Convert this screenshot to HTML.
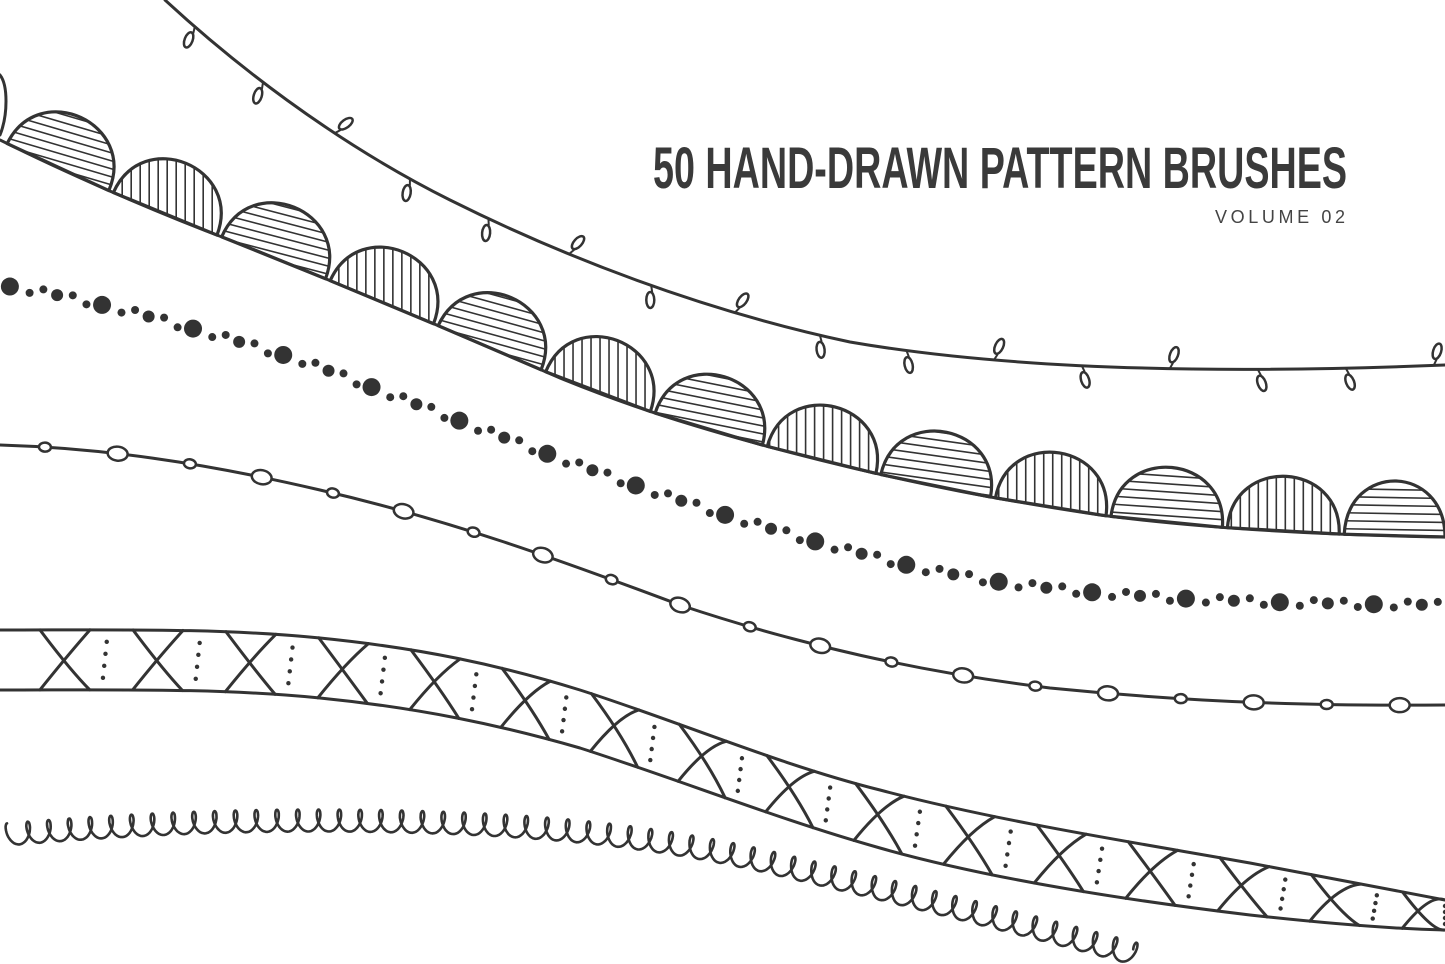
<!DOCTYPE html>
<html><head><meta charset="utf-8"><style>
html,body{margin:0;padding:0;background:#fff;width:1445px;height:964px;overflow:hidden}
svg{display:block}
</style></head><body>
<svg id="s" width="1445" height="964" viewBox="0 0 1445 964" xmlns="http://www.w3.org/2000/svg">
<g fill="none" stroke="#333" stroke-width="3" stroke-linecap="round" stroke-linejoin="round">
<path id="vine" d="M165,0 C230,60 330,140 450,200 C560,255 700,310 850,342 C1000,368 1200,375 1445,365"/>
<path id="scb" d="M0,140 C60,170 150,210 230,240 C330,280 450,330 560,378 C650,415 740,440 820,460 C920,485 1000,500 1100,515 C1200,528 1320,535 1445,537"/>
<path id="dots" d="M0,285 C100,300 200,330 300,360 C420,405 520,445 620,480 C720,515 820,545 920,568 C1050,595 1200,603 1445,605" stroke="none"/>
<path id="bead" d="M0,445 C100,448 200,462 320,490 C450,520 560,560 680,605 C800,645 920,672 1050,688 C1200,703 1320,706 1445,705"/>
<path id="xt" d="M0,630 C120,630 220,628 320,638 C420,648 500,665 580,690 C680,722 780,765 880,790 C1000,822 1150,845 1250,863 C1340,880 1400,892 1445,900"/>
<path id="xb" d="M0,690 C120,690 220,688 320,698 C420,708 500,725 580,748 C680,780 780,820 880,848 C1000,882 1150,903 1250,915 C1340,925 1400,929 1445,930"/>
<path id="coil" d="M0,835 C150,822 280,818 420,822 C560,826 660,838 760,860 C880,888 1000,918 1140,955" stroke="none"/>
<path d="M0,75 C8,85 8,115 0,135"/>
</g>
<g id="deco"></g>
<text x="653" y="188" font-family="'Liberation Sans Narrow','Liberation Sans',sans-serif" font-weight="bold" font-size="58" fill="#3a3a3a" textLength="694" lengthAdjust="spacingAndGlyphs">50 HAND-DRAWN PATTERN BRUSHES</text>
<text x="1215" y="223" font-family="'Liberation Sans',sans-serif" font-size="18" fill="#444" letter-spacing="2" textLength="132">VOLUME 02</text>
</svg>
<script>
(function(){
var d=document.getElementById('deco'),out=[];
function P(id){var e=document.getElementById(id);return {L:e.getTotalLength(),at:function(s){return e.getPointAtLength(Math.max(0,Math.min(s,this.L)))}};}
function nrm(p,s){var a=p.at(s-1),b=p.at(s+1),dx=b.x-a.x,dy=b.y-a.y,l=Math.hypot(dx,dy)||1;return [dx/l,dy/l,dy/l,-dx/l];}
var st='stroke="#333" fill="none" stroke-linecap="round" stroke-linejoin="round"';
var v=P('vine');var ups=[0,0,1,0,0,1,0,1,0,0,1,0,1,0,0,1,0,1,0,1];
for(var s=40,i=0;s<v.L;s+=88,i++){var p=v.at(s),n=nrm(v,s),ang=Math.atan2(n[1],n[0])*180/Math.PI;
 var down=!ups[i%ups.length];var oy=down?14:-14;
 out.push('<g transform="translate('+p.x+','+p.y+') rotate('+ang+')"><path d="M0,0 L3,'+(oy*0.4)+'" '+st+' stroke-width="2"/><ellipse cx="4" cy="'+(oy)+'" rx="4" ry="8" transform="rotate('+(down?-20:20)+' 4 '+oy+')" fill="#fff" stroke="#333" stroke-width="2.5"/></g>');}
var b=P('scb');var k=0;
for(var s=8;s<b.L;s+=117,k++){var a=b.at(s),e=b.at(s+112),n=nrm(b,s+56);var h=56;
 var c1x=a.x+n[2]*h*1.3+n[0]*2,c1y=a.y+n[3]*h*1.3+n[1]*2,c2x=e.x+n[2]*h*1.3-n[0]*2,c2y=e.y+n[3]*h*1.3-n[1]*2;
 var dd='M'+a.x+','+a.y+' C'+c1x+','+c1y+' '+c2x+','+c2y+' '+e.x+','+e.y+' Z';
 out.push('<clipPath id="c'+k+'"><path d="'+dd+'"/></clipPath>');
 var g='<g clip-path="url(#c'+k+')" stroke="#333" stroke-width="1.6">';
 var cx=(a.x+e.x)/2,cy=(a.y+e.y)/2;
 if(k%2==0){for(var j=-70;j<80;j+=8){g+='<line x1="'+(cx-80)+'" y1="'+(cy+j+(a.y-e.y)/2)+'" x2="'+(cx+80)+'" y2="'+(cy+j-(a.y-e.y)/2)+'"/>';}}
 else{for(var j=-70;j<80;j+=9){g+='<line x1="'+(cx+j)+'" y1="'+(cy-90)+'" x2="'+(cx+j)+'" y2="'+(cy+20)+'"/>';}}
 out.push(g+'</g><path d="'+dd+'" '+st+' stroke-width="3.2"/>');}
var dt=P('dots');var pat=[[9,18],[4,12],[4,12],[6,14],[4,12],[4,14]];
for(var s=10,i=0;s<dt.L;i++){var q=pat[i%pat.length];var p=dt.at(s);var off=(i%2?3:-3);
 out.push('<circle cx="'+p.x+'" cy="'+(p.y+(q[0]<6?off:0))+'" r="'+q[0]+'" fill="#333"/>');s+=q[1]+2;}
var bd=P('bead');
for(var s=45,i=0;s<bd.L;s+=73,i++){var p=bd.at(s),n=nrm(bd,s),ang=Math.atan2(n[1],n[0])*180/Math.PI;var big=(i%2==1);
 out.push('<ellipse transform="translate('+p.x+','+p.y+') rotate('+ang+')" rx="'+(big?10:6)+'" ry="'+(big?7:4.5)+'" fill="#fff" stroke="#333" stroke-width="2.5"/>');}
var t=P('xt'),bo=P('xb');var sc=bo.L/t.L;
for(var s=40;s<t.L;s+=93){var A=t.at(s),B=bo.at((s+50)*sc),C=bo.at(s*sc),D=t.at(s+50);
 out.push('<path d="M'+A.x+','+A.y+' Q'+(A.x+30)+','+(A.y+40)+' '+B.x+','+B.y+'" '+st+' stroke-width="3"/>');
 out.push('<path d="M'+C.x+','+C.y+' Q'+(C.x+28)+','+(C.y-35)+' '+D.x+','+D.y+'" '+st+' stroke-width="3"/>');
 var m1=t.at(s+68),m2=bo.at((s+62)*sc);
 for(var j=1;j<5;j++){var f=j/5;out.push('<circle cx="'+(m1.x+(m2.x-m1.x)*f)+'" cy="'+(m1.y+(m2.y-m1.y)*f)+'" r="2.2" fill="#333"/>');}}
var co=P('coil');var pts=[];var a=3.3,r=11;
for(var tt=0;a*tt<co.L-10;tt+=0.2){var u=a*tt-r*0.55*Math.sin(tt)+8,w=r*Math.cos(tt);var p=co.at(u),n=nrm(co,u);
 pts.push((p.x+n[2]*w).toFixed(1)+','+(p.y+n[3]*w).toFixed(1));}
out.push('<polyline points="'+pts.join(' ')+'" '+st+' stroke-width="2.6"/>');
d.innerHTML=out.join('');
})();
</script>
</body></html>
